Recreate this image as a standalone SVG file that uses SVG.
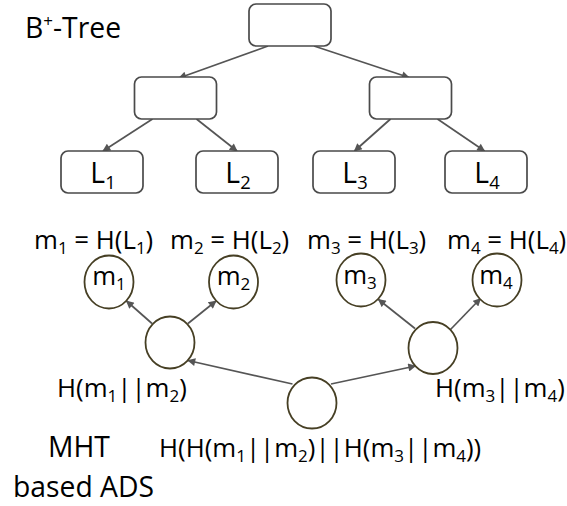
<svg xmlns="http://www.w3.org/2000/svg" width="567" height="506" viewBox="0 0 567 506">
  <style>
    text { font-family: "Open Sans", "Noto Sans", "Liberation Sans", sans-serif; fill: #000; }
    .big { font-size: 28.3px; }
    .lbl { font-size: 25.8px; }
    .sub { font-size: 17px; }
    .bsub { font-size: 18.4px; }
    .box { fill: #fff; stroke: #4a4a4a; stroke-width: 1.7; }
    .hash { fill: #fff; stroke: #463f24; stroke-width: 1.8; }
    .edge { stroke: #555555; stroke-width: 1.7; fill: none; marker-end: url(#ah); }
  </style>
  <defs>
    <marker id="ah" viewBox="0 0 10 10" refX="9" refY="5" markerWidth="9" markerHeight="8" markerUnits="userSpaceOnUse" orient="auto">
      <path d="M0,0 L10,5 L0,10 z" fill="#555555"/>
    </marker>
  </defs>
  <rect width="567" height="506" fill="#fff"/>

  <!-- title -->
  <text id="title-btree" class="big" x="25" y="38">B<tspan class="sub" dy="-11">+</tspan><tspan dy="11">-Tree</tspan></text>

  <!-- connectors -->
  <g id="connectors">
    <line class="edge" x1="268" y1="46" x2="179" y2="78"/>
    <line class="edge" x1="314" y1="46" x2="409" y2="77.5"/>
    <line class="edge" x1="152.5" y1="119" x2="103" y2="151"/>
    <line class="edge" x1="196.5" y1="119" x2="237" y2="151"/>
    <line class="edge" x1="390.5" y1="119" x2="354.5" y2="151"/>
    <line class="edge" x1="437.5" y1="119" x2="484.5" y2="151"/>
    <line class="edge" x1="152" y1="323.5" x2="126.5" y2="301"/>
    <line class="edge" x1="188" y1="323.5" x2="216" y2="301"/>
    <line class="edge" x1="415" y1="328.5" x2="378.5" y2="299.5"/>
    <line class="edge" x1="450.5" y1="329.5" x2="480.5" y2="298.5"/>
    <line class="edge" x1="292.5" y1="384" x2="188" y2="360.5"/>
    <line class="edge" x1="331" y1="384" x2="415.5" y2="366"/>
  </g>

  <!-- B+-tree nodes -->
  <g id="bt-root"><rect class="box" x="249" y="4" width="82" height="42" rx="7"/></g>
  <g id="bt-inner-left"><rect class="box" x="134.5" y="77" width="82" height="42" rx="7"/></g>
  <g id="bt-inner-right"><rect class="box" x="369.5" y="77" width="82" height="42" rx="7"/></g>
  <g id="bt-leaf-1"><rect class="box" x="61" y="151" width="82" height="42" rx="7"/>
    <text class="big" x="103" y="183" text-anchor="middle">L<tspan class="bsub" dy="6">1</tspan></text></g>
  <g id="bt-leaf-2"><rect class="box" x="196" y="151" width="82" height="42" rx="7"/>
    <text class="big" x="238" y="183" text-anchor="middle">L<tspan class="bsub" dy="6">2</tspan></text></g>
  <g id="bt-leaf-3"><rect class="box" x="313" y="151" width="82" height="42" rx="7"/>
    <text class="big" x="355" y="183" text-anchor="middle">L<tspan class="bsub" dy="6">3</tspan></text></g>
  <g id="bt-leaf-4"><rect class="box" x="445" y="151" width="82" height="42" rx="7"/>
    <text class="big" x="487" y="183" text-anchor="middle">L<tspan class="bsub" dy="6">4</tspan></text></g>

  <!-- leaf hash definitions -->
  <g id="leaf-hash-labels">
    <text class="lbl" x="34" y="249">m<tspan class="sub" dy="5">1</tspan><tspan dy="-5"> = H(L</tspan><tspan class="sub" dy="5">1</tspan><tspan dy="-5">)</tspan></text>
    <text class="lbl" x="170" y="249">m<tspan class="sub" dy="5">2</tspan><tspan dy="-5"> = H(L</tspan><tspan class="sub" dy="5">2</tspan><tspan dy="-5">)</tspan></text>
    <text class="lbl" x="307" y="249">m<tspan class="sub" dy="5">3</tspan><tspan dy="-5"> = H(L</tspan><tspan class="sub" dy="5">3</tspan><tspan dy="-5">)</tspan></text>
    <text class="lbl" x="447" y="249">m<tspan class="sub" dy="5">4</tspan><tspan dy="-5"> = H(L</tspan><tspan class="sub" dy="5">4</tspan><tspan dy="-5">)</tspan></text>
  </g>

  <!-- Merkle hash tree nodes -->
  <g id="mht-m1"><ellipse class="hash" cx="109" cy="282" rx="24.5" ry="26.5"/>
    <text class="lbl" x="109" y="285" text-anchor="middle">m<tspan class="sub" dy="5">1</tspan></text></g>
  <g id="mht-m2"><ellipse class="hash" cx="233.5" cy="282" rx="24.5" ry="26.5"/>
    <text class="lbl" x="233.5" y="285" text-anchor="middle">m<tspan class="sub" dy="5">2</tspan></text></g>
  <g id="mht-m3"><ellipse class="hash" cx="361" cy="280" rx="24.5" ry="26.5"/>
    <text class="lbl" x="360" y="284" text-anchor="middle">m<tspan class="sub" dy="5">3</tspan></text></g>
  <g id="mht-m4"><ellipse class="hash" cx="497" cy="280" rx="24.5" ry="26.5"/>
    <text class="lbl" x="496" y="284" text-anchor="middle">m<tspan class="sub" dy="5">4</tspan></text></g>
  <g id="mht-left"><ellipse class="hash" cx="170" cy="342.5" rx="24.5" ry="26"/>
    <text class="lbl" x="57" y="397">H(m<tspan class="sub" dy="5">1</tspan><tspan dy="-5">||m</tspan><tspan class="sub" dy="5">2</tspan><tspan dy="-5">)</tspan></text></g>
  <g id="mht-right"><ellipse class="hash" cx="433" cy="348" rx="24.5" ry="26"/>
    <text class="lbl" x="435" y="397">H(m<tspan class="sub" dy="5">3</tspan><tspan dy="-5">||m</tspan><tspan class="sub" dy="5">4</tspan><tspan dy="-5">)</tspan></text></g>
  <g id="mht-root"><ellipse class="hash" cx="312" cy="403" rx="24.5" ry="25.5"/>
    <text class="lbl" x="159" y="457">H(H(m<tspan class="sub" dy="5">1</tspan><tspan dy="-5">||m</tspan><tspan class="sub" dy="5">2</tspan><tspan dy="-5">)||H(m</tspan><tspan class="sub" dy="5">3</tspan><tspan dy="-5">||m</tspan><tspan class="sub" dy="5">4</tspan><tspan dy="-5">))</tspan></text></g>

  <!-- caption -->
  <g id="caption">
    <text class="big" x="48" y="457">MHT</text>
    <text class="big" x="13" y="497">based ADS</text>
  </g>
</svg>
